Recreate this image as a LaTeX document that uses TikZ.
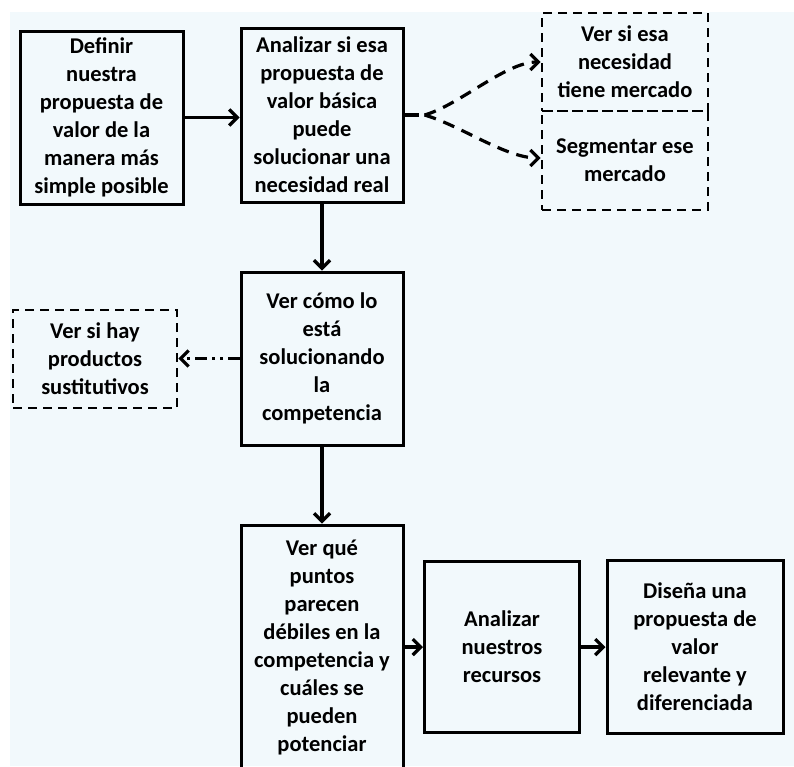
\documentclass[tikz,border=0pt]{standalone}
\usepackage{fontspec}
\setmainfont{Carlito}
\usetikzlibrary{arrows.meta}
\definecolor{fondo}{HTML}{F2F9FC}
\tikzset{
  paso/.style={draw, line width=3pt, align=center, inner sep=0pt,
    font=\fontsize{22.5}{28}\selectfont\bfseries},
  opcion/.style={paso, line width=2.8pt, dash pattern=on 9pt off 6pt},
  flecha/.style={line width=3.2pt, -{Straight Barb[length=8pt,width=16pt]}},
}
\begin{document}
\begin{tikzpicture}[x=1pt,y=-1pt]
    \clip (0,0) rectangle (794,766);
    \fill[white] (0,0) rectangle (794,766);
    \fill[fondo] (10,12) rectangle (794,766);

    % Fila superior
    \node[paso, minimum width=163pt, minimum height=173pt] (definir) at (101.5,117.5)
      {Definir\\nuestra\\propuesta de\\valor de la\\manera más\\simple posible};
    \node[paso, minimum width=162pt, minimum height=174pt] (analizar) at (322,115)
      {Analizar si esa\\propuesta de\\valor básica\\puede\\solucionar una\\necesidad real};
    \node[opcion, minimum width=166pt, minimum height=98pt] (mercado) at (625,62)
      {Ver si esa\\necesidad\\tiene mercado};
    \node[opcion, minimum width=166pt, minimum height=99pt] (segmentar) at (625,160.5)
      {Segmentar ese\\mercado};

    % Competencia
    \node[paso, minimum width=162pt, minimum height=173pt] (competencia) at (322,358.5)
      {Ver cómo lo\\está\\solucionando\\la\\competencia};
    \node[opcion, minimum width=164pt, minimum height=98pt] (sustitutos) at (95,359)
      {Ver si hay\\productos\\sustitutivos};

    % Fila inferior
    \node[paso, minimum width=162pt, minimum height=245pt] (debiles) at (322,647.5)
      {Ver qué\\puntos\\parecen\\débiles en la\\competencia y\\cuáles se\\pueden\\potenciar};
    \node[paso, minimum width=155pt, minimum height=171pt] (recursos) at (502,647)
      {Analizar\\nuestros\\recursos};
    \node[paso, minimum width=176pt, minimum height=173pt] (disena) at (695,646.5)
      {Diseña una\\propuesta de\\valor\\relevante y\\diferenciada};

    % Conectores
    \draw[flecha] (definir.east) -- (definir.east -| analizar.west);
    \draw[flecha] (analizar.south) -- (competencia.north);
    \draw[flecha] (competencia.south) -- (debiles.north);
    \draw[flecha] (debiles.east |- recursos.west) -- (recursos.west);
    \draw[flecha] (recursos.east) -- (recursos.east -| disena.west);

    \coordinate (bif) at ([xshift=14pt]analizar.east);
    \draw[line width=3.2pt] (analizar.east) -- (bif);
    \draw[flecha, dash pattern=on 12pt off 8pt]
      ([xshift=6pt]bif) .. controls +(35,-10) and +(-35,0) .. (mercado.west);
    \draw[flecha, dash pattern=on 12pt off 8pt]
      ([xshift=6pt]bif) .. controls +(35,10) and +(-35,0) .. (segmentar.west |- 0,158);
    \draw[flecha, dash pattern=on 12pt off 5pt on 3pt off 5pt on 3pt off 5pt]
      (competencia.west) -- (competencia.west -| sustitutos.east);
\end{tikzpicture}
\end{document}
